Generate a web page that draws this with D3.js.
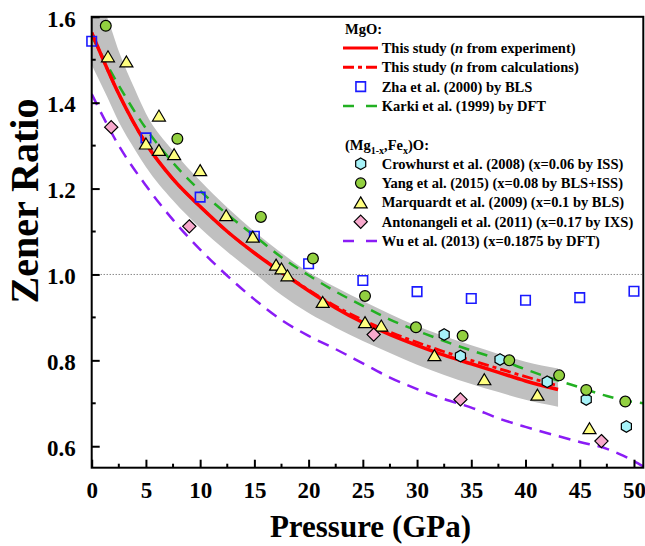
<!DOCTYPE html>
<html>
<head>
<meta charset="utf-8">
<script src="https://cdn.jsdelivr.net/npm/d3@7"></script>
<style>
html,body{margin:0;padding:0;background:#fff;}
svg{display:block;}
text{font-family:"Liberation Serif","Times New Roman","DejaVu Serif",serif;font-weight:bold;}
</style>
</head>
<body>
<svg id="chart" width="645" height="546"></svg>
<script>
// ---------------- DATA ----------------
const xTicks = [0,5,10,15,20,25,30,35,40,45,50];
const yTicks = [0.6,0.8,1.0,1.2,1.4,1.6];
const yTickLabels = ["0.6","0.8","1.0","1.2","1.4","1.6"];

// Zha et al. (2000) by BLS
const zhaP = [0,5,10,15,20,25,30,35,40,45,50];
const zhaZ = [1.543,1.318,1.18,1.089,1.025,0.986,0.96,0.944,0.94,0.946,0.961];
// Crowhurst et al. (2008)
const crowP = [32.5,34.0,37.65,42.0,45.6,49.3];
const crowZ = [0.86,0.81,0.802,0.75,0.709,0.646];
// Yang et al. (2015)
const yangP = [1.3,7.9,15.6,20.4,25.2,29.9,34.2,38.5,43.1,45.6,49.2];
const yangZ = [1.579,1.316,1.134,1.037,0.95,0.877,0.857,0.80,0.765,0.731,0.704];
// Marquardt et al. (2009)
const marqP = [1.5,3.2,5.0,6.2,6.2,7.6,10.0,12.4,14.85,17.0,17.5,18.05,21.3,25.2,26.7,31.6,36.2,41.1,45.9];
const marqZ = [1.508,1.496,1.305,1.37,1.29,1.28,1.243,1.138,1.088,1.023,1.014,0.998,0.936,0.889,0.881,0.812,0.756,0.72,0.642];
// Antonangeli et al. (2011)
const antoP = [1.8,9.0,26.0,34.0,47.0];
const antoZ = [1.343,1.112,0.86,0.709,0.612];

// This study (n from experiment)
const studyP = [0,2.5,5,7.5,10,12.5,15,17.5,20,22.5,25,27.5,30,32.5,35,37.5,40,43];
const studyExpZ = [1.563,1.42,1.305,1.222,1.158,1.10,1.05,1.005,0.962,0.922,0.888,0.86,0.835,0.812,0.792,0.772,0.752,0.732];
// This study (n from calculations)
const studyCalcZ = [1.563,1.42,1.305,1.222,1.158,1.10,1.05,1.006,0.964,0.926,0.894,0.866,0.842,0.82,0.80,0.781,0.762,0.741];
// Uncertainty band
const bandP = [0,1.4,2.5,4,5,7.5,10,12.5,15,17.5,20,22.5,25,27.5,30,32.5,35,37.5,40,43];
const bandUpper = [1.66,1.60,1.52,1.43,1.375,1.288,1.218,1.156,1.1,1.05,1.005,0.97,0.938,0.908,0.88,0.856,0.835,0.815,0.797,0.781];
const bandLower = [1.488,1.415,1.355,1.29,1.25,1.172,1.108,1.053,1.003,0.952,0.91,0.876,0.845,0.817,0.79,0.766,0.745,0.726,0.708,0.692];
// Karki et al. (1999) by DFT
const karkiP = [0,2.5,5,7.5,10,12.5,15,17.5,20,22.5,25,27.5,30,32.5,35,37.5,40,42.5,45,47.5,50,50.86];
const karkiZ = [1.555,1.44,1.34,1.26,1.195,1.14,1.09,1.04,0.998,0.96,0.927,0.895,0.869,0.845,0.823,0.803,0.779,0.757,0.737,0.717,0.703,0.70];
// Wu et al. (2013) by DFT
const wuP = [0,2.5,5,7.5,10,12.5,15,17.5,20,22.5,25,27.5,30,32.5,35,37.5,40,42.5,45,47.5,49,50.86];
const wuZ = [1.42,1.30,1.207,1.127,1.058,0.997,0.942,0.894,0.857,0.826,0.793,0.76,0.733,0.71,0.69,0.665,0.645,0.627,0.61,0.594,0.578,0.553];

// ---------------- CHART ----------------
const FONT = "Liberation Serif, Times New Roman, DejaVu Serif, serif";
const svg = d3.select("#chart");
const L = 91.7, R = 643.3, T = 16.8, B = 467.7;
const x = d3.scaleLinear().domain([0, 50.86]).range([L, R]);
const y = d3.scaleLinear().domain([0.55, 1.6]).range([B, T]);

const defs = svg.append("defs");
defs.append("clipPath").attr("id","plotclip").append("rect")
  .attr("x",L).attr("y",T).attr("width",R-L).attr("height",B-T);

const plot = svg.append("g").attr("clip-path","url(#plotclip)");

// band
const band = bandP.map((p,i)=>({p, u:bandUpper[i], l:bandLower[i]}));
plot.append("path").datum(band)
  .attr("d", d3.area().x(d=>x(d.p)).y0(d=>y(d.l)).y1(d=>y(d.u)).curve(d3.curveMonotoneX))
  .attr("fill","#c0c0c0");

// dotted reference line at 1.0
plot.append("line").attr("x1",L).attr("x2",R).attr("y1",y(1.0)).attr("y2",y(1.0))
  .attr("stroke","#555").attr("stroke-width",1).attr("stroke-dasharray","1,2");

const line = d3.line().x(d=>x(d[0])).y(d=>y(d[1])).curve(d3.curveMonotoneX);
const zip = (a,b)=>a.map((v,i)=>[v,b[i]]);

plot.append("path").attr("d", line(zip(karkiP,karkiZ)))
  .attr("fill","none").attr("stroke","#22b022").attr("stroke-width",2.5).attr("stroke-dasharray","11,8");
plot.append("path").attr("d", line(zip(wuP,wuZ)))
  .attr("fill","none").attr("stroke","#8a1cf5").attr("stroke-width",2.5).attr("stroke-dasharray","12,8");
plot.append("path").attr("d", line(zip(studyP,studyCalcZ)))
  .attr("fill","none").attr("stroke","#ff0000").attr("stroke-width",2.8).attr("stroke-dasharray","11,4,4,4");
plot.append("path").attr("d", line(zip(studyP,studyExpZ)))
  .attr("fill","none").attr("stroke","#ff0000").attr("stroke-width",3.5);

// marker shapes
function sqPath(s){const h=s/2;return `M${-h},${-h}H${h}V${h}H${-h}Z`;}
function triPath(w,h){return `M0,${-h/2}L${w/2},${h/2}L${-w/2},${h/2}Z`;}
function diaPath(r){return `M0,${-r}L${r},0L0,${r}L${-r},0Z`;}
function hexPath(r){let p=[];for(let i=0;i<6;i++){const a=Math.PI/3*i-Math.PI/2;p.push([r*Math.cos(a),r*Math.sin(a)]);}return "M"+p.map(q=>q[0].toFixed(2)+","+q[1].toFixed(2)).join("L")+"Z";}

const styles = {
  zha:{d:sqPath(9.5), fill:"none", stroke:"#1a1aff", sw:1.6},
  crow:{d:hexPath(5.8), fill:"#a6f2f8", stroke:"#000", sw:1.2},
  yang:{d:null, r:5.4, fill:"#92d040", stroke:"#000", sw:1.2},
  marq:{d:triPath(13,11), fill:"#ffff80", stroke:"#000", sw:1.2},
  anto:{d:diaPath(6.6), fill:"#f7a8cc", stroke:"#000", sw:1.2}
};
function drawMarkers(g, P, Z, st){
  const sel = g.selectAll(null).data(zip(P,Z)).enter();
  if(st.d===null){
    sel.append("circle").attr("cx",d=>x(d[0])).attr("cy",d=>y(d[1])).attr("r",st.r)
      .attr("fill",st.fill).attr("stroke",st.stroke).attr("stroke-width",st.sw);
  } else {
    sel.append("path").attr("d",st.d).attr("transform",d=>`translate(${x(d[0])},${y(d[1])})`)
      .attr("fill",st.fill).attr("stroke",st.stroke).attr("stroke-width",st.sw);
  }
}
const mg = svg.append("g");
drawMarkers(mg, zhaP, zhaZ, styles.zha);
drawMarkers(mg, crowP, crowZ, styles.crow);
drawMarkers(mg, yangP, yangZ, styles.yang);
drawMarkers(mg, marqP, marqZ, styles.marq);
drawMarkers(mg, antoP, antoZ, styles.anto);

// axes frame
svg.append("rect").attr("x",L).attr("y",T).attr("width",R-L).attr("height",B-T)
  .attr("fill","none").attr("stroke","#000").attr("stroke-width",2);

// x axis ticks (inward)
const xAxis = d3.axisBottom(x).tickValues(xTicks).tickSize(-8).tickSizeOuter(0).tickPadding(14);
const xg = svg.append("g").attr("transform",`translate(0,${B})`).call(xAxis).attr("font-family",FONT);
xg.select(".domain").remove();
xg.selectAll(".tick line").attr("stroke","#000").attr("stroke-width",2);
xg.selectAll(".tick text").attr("font-size",23).attr("font-family",FONT)
  .attr("font-weight","bold").attr("fill","#000");
const xMinor = d3.range(2.5, 50.86, 5);
svg.append("g").selectAll("line").data(xMinor).enter().append("line")
  .attr("x1",d=>x(d)).attr("x2",d=>x(d)).attr("y1",B).attr("y2",B-4)
  .attr("stroke","#000").attr("stroke-width",2);

// y axis
const yAxis = d3.axisLeft(y).tickValues(yTicks).tickFormat((d,i)=>yTickLabels[i]).tickSize(-8).tickSizeOuter(0).tickPadding(16);
const yg = svg.append("g").attr("transform",`translate(${L},0)`).call(yAxis).attr("font-family",FONT);
yg.select(".domain").remove();
yg.selectAll(".tick line").attr("stroke","#000").attr("stroke-width",2);
yg.selectAll(".tick text").attr("font-size",23).attr("font-family",FONT)
  .attr("font-weight","bold").attr("fill","#000").attr("dy","0.4em");
const yMinor = [0.7,0.9,1.1,1.3,1.5];
svg.append("g").selectAll("line").data(yMinor).enter().append("line")
  .attr("x1",L).attr("x2",L+4).attr("y1",d=>y(d)).attr("y2",d=>y(d))
  .attr("stroke","#000").attr("stroke-width",2);

// axis titles
svg.append("text").attr("x",(L+R)/2+3).attr("y",537).attr("text-anchor","middle")
  .attr("font-family",FONT).attr("font-size",31).text("Pressure (GPa)");
svg.append("text").attr("transform","translate(38,201) rotate(-90)").attr("text-anchor","middle")
  .attr("font-family",FONT).attr("font-size",40).text("Zener Ratio");

// legend
const lg = svg.append("g").attr("font-size",14.5).attr("font-family",FONT);
const rowY = i => 48 + i*19.3;
const tx = 381.7, mx = 360.7;
lg.append("text").attr("x",345).attr("y",rowY(-1)+5).text("MgO:");
function legText(i, parts){
  const t = lg.append("text").attr("x",tx).attr("y",rowY(i)+5);
  parts.forEach(p=>{ const s=t.append("tspan").text(p.t); if(p.i) s.attr("font-style","italic"); });
}
lg.append("line").attr("x1",343).attr("x2",378).attr("y1",rowY(0)).attr("y2",rowY(0))
  .attr("stroke","#ff0000").attr("stroke-width",3);
legText(0,[{t:"This study ("},{t:"n",i:true},{t:" from experiment)"}]);
lg.append("line").attr("x1",343).attr("x2",378).attr("y1",rowY(1)).attr("y2",rowY(1))
  .attr("stroke","#ff0000").attr("stroke-width",3).attr("stroke-dasharray","11,4,4,4");
legText(1,[{t:"This study ("},{t:"n",i:true},{t:" from calculations)"}]);
lg.append("path").attr("d",styles.zha.d).attr("transform",`translate(${mx},${rowY(2)})`)
  .attr("fill","none").attr("stroke",styles.zha.stroke).attr("stroke-width",1.6);
legText(2,[{t:"Zha et al. (2000) by BLS"}]);
lg.append("line").attr("x1",343).attr("x2",378).attr("y1",rowY(3)).attr("y2",rowY(3))
  .attr("stroke","#22b022").attr("stroke-width",2.5).attr("stroke-dasharray","11,12");
legText(3,[{t:"Karki et al. (1999) by DFT"}]);

const mgT = lg.append("text").attr("x",345).attr("y",rowY(5)+5);
mgT.append("tspan").text("(Mg");
mgT.append("tspan").attr("font-size",10).attr("dy",4).text("1-x");
mgT.append("tspan").attr("dy",-4).text(",Fe");
mgT.append("tspan").attr("font-size",10).attr("dy",4).text("x");
mgT.append("tspan").attr("dy",-4).text(")O:");

lg.append("path").attr("d",styles.crow.d).attr("transform",`translate(${mx},${rowY(6)})`)
  .attr("fill",styles.crow.fill).attr("stroke","#000").attr("stroke-width",1.2);
legText(6,[{t:"Crowhurst et al. (2008) (x=0.06 by ISS)"}]);
lg.append("circle").attr("cx",mx).attr("cy",rowY(7)).attr("r",5.2)
  .attr("fill",styles.yang.fill).attr("stroke","#000").attr("stroke-width",1.2);
legText(7,[{t:"Yang et al. (2015) (x=0.08 by BLS+ISS)"}]);
lg.append("path").attr("d",styles.marq.d).attr("transform",`translate(${mx},${rowY(8)})`)
  .attr("fill",styles.marq.fill).attr("stroke","#000").attr("stroke-width",1.2);
legText(8,[{t:"Marquardt et al. (2009) (x=0.1 by BLS)"}]);
lg.append("path").attr("d",styles.anto.d).attr("transform",`translate(${mx},${rowY(9)})`)
  .attr("fill",styles.anto.fill).attr("stroke","#000").attr("stroke-width",1.2);
legText(9,[{t:"Antonangeli et al. (2011) (x=0.17 by IXS)"}]);
lg.append("line").attr("x1",343).attr("x2",378).attr("y1",rowY(10)).attr("y2",rowY(10))
  .attr("stroke","#8a1cf5").attr("stroke-width",2.5).attr("stroke-dasharray","11,12");
legText(10,[{t:"Wu et al. (2013) (x=0.1875 by DFT)"}]);
</script>
</body>
</html>
